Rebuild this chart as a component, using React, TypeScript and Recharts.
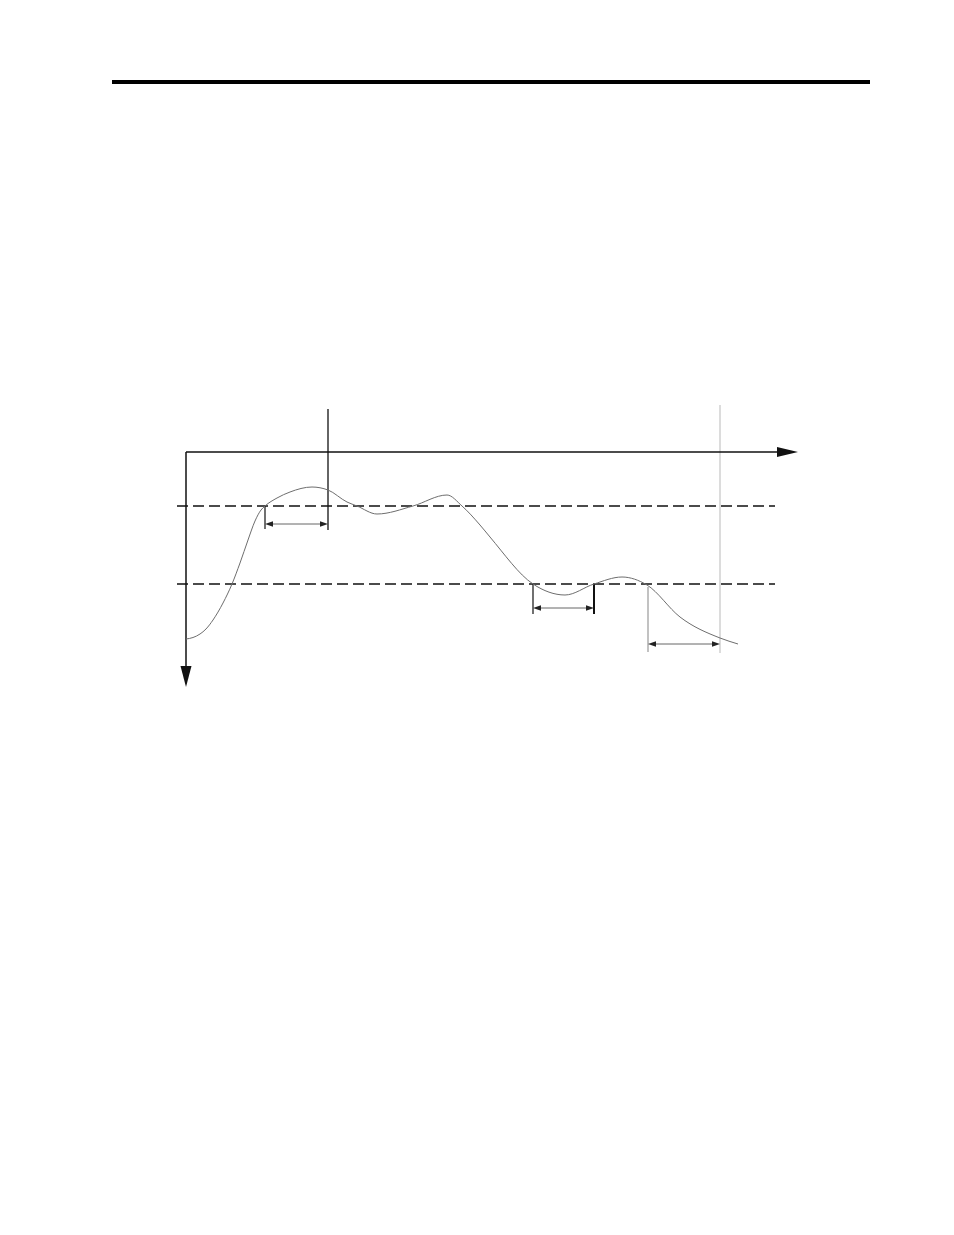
import * as React from "react";
import { LineChart, Line, XAxis, YAxis, ReferenceLine } from "recharts";

// ── Data (time units to the right, deviation units downward) ────────────

const curveT = [0, 7, 14, 20, 27, 37, 46, 54, 62, 69, 75, 79, 91, 104, 126, 142, 161, 171, 191, 227, 261, 276, 294, 304, 347, 379, 408, 436, 461, 494, 534, 552];
const curveY = [187, 185.5, 182, 177, 168, 151, 132, 111, 88, 69, 58, 54, 46, 40, 35, 38, 50, 54, 62, 54, 43, 54, 73, 85, 132, 143, 132, 125, 133, 165, 186, 192];

// dashed threshold levels
const levels = [54, 132];
const levelSpan = [-9, 589];

// axes extent (origin at 0,0)
const axisEndT = 612;
const axisEndY = 235;

// vertical markers: [t, yFrom, yTo]
const markBlack = [142, -43, 78];
const markGray = [534, -47, 201];

// dimension arrows: [tFrom, tTo, y]
const dims = [
  [79, 142, 72],
  [347, 408, 156],
  [462, 534, 192],
];
// dimension ticks: [t, yFrom, yTo]
const dimTicks = [
  [79, 54, 77],
  [347, 132, 162],
  [408, 132, 162],
  [462, 135, 200],
];

const X_DOMAIN = [-16, 624];
const Y_DOMAIN = [-52, 248];

const chartData = curveT.map((t, i) => ({ t, v: curveY[i] }));

// ── Shapes ──────────────────────────────────────────────────────────────

type Seg = { x1: number; y1: number; x2: number; y2: number };

function head(x: number, y: number, dx: number, dy: number, len: number, half: number) {
  // tip at (x, y), pointing along (dx, dy)
  const n = Math.hypot(dx, dy) || 1;
  const ux = dx / n, uy = dy / n;
  const bx = x - ux * len, by = y - uy * len;
  return `${x},${y} ${bx - uy * half},${by + ux * half} ${bx + uy * half},${by - ux * half}`;
}

function axisArrow(color: string, width: number, len: number, half: number) {
  return (p: Seg) => (
    <g>
      <line x1={p.x1} y1={p.y1} x2={p.x2 - Math.sign(p.x2 - p.x1) * len * 0.5} y2={p.y2 - Math.sign(p.y2 - p.y1) * len * 0.5} stroke={color} strokeWidth={width} />
      <polygon points={head(p.x2, p.y2, p.x2 - p.x1, p.y2 - p.y1, len, half)} fill={color} />
    </g>
  );
}

function dimArrow(color: string) {
  return (p: Seg) => (
    <g>
      <line x1={p.x1 + 4} y1={p.y1} x2={p.x2 - 4} y2={p.y2} stroke={color} strokeWidth={1} />
      <polygon points={head(p.x1, p.y1, p.x1 - p.x2, 0, 8, 2.8)} fill="#222" />
      <polygon points={head(p.x2, p.y2, p.x2 - p.x1, 0, 8, 2.8)} fill="#222" />
    </g>
  );
}

// ── App ─────────────────────────────────────────────────────────────────

export default function App() {
  return (
    <div style={{ position: "absolute", left: 0, top: 0, width: 954, height: 760, background: "#fff" }}>
      <div style={{ position: "absolute", left: 112, top: 80, width: 758, height: 4, background: "#000" }} />
      <div style={{ position: "absolute", left: 0, top: 0 }}>
        <LineChart width={954} height={760} data={chartData} margin={{ top: 400, right: 144, bottom: 60, left: 170 }}>
          <XAxis dataKey="t" type="number" domain={X_DOMAIN} allowDataOverflow hide />
          <YAxis type="number" domain={Y_DOMAIN} reversed allowDataOverflow hide />

          {levels.map((lv) => (
            <ReferenceLine key={`lv${lv}`} segment={[{ x: levelSpan[0], y: lv }, { x: levelSpan[1], y: lv }]} stroke="#111" strokeWidth={1.3} strokeDasharray="11 5" ifOverflow="visible" />
          ))}

          <ReferenceLine segment={[{ x: markGray[0], y: markGray[1] }, { x: markGray[0], y: markGray[2] }]} stroke="#dcdcdc" strokeWidth={2} ifOverflow="visible" />
          <ReferenceLine segment={[{ x: markBlack[0], y: markBlack[1] }, { x: markBlack[0], y: markBlack[2] }]} stroke="#111" strokeWidth={1.3} ifOverflow="visible" />

          {dimTicks.map(([t, a, b], i) => (
            <ReferenceLine key={`tk${i}`} segment={[{ x: t, y: a }, { x: t, y: b }]} stroke={i === 3 ? "#999" : "#111"} strokeWidth={i === 2 ? 2 : 1.2} ifOverflow="visible" />
          ))}

          {dims.map(([a, b, y], i) => (
            <ReferenceLine key={`dm${i}`} segment={[{ x: a, y }, { x: b, y }]} shape={dimArrow("#666")} ifOverflow="visible" />
          ))}

          <ReferenceLine segment={[{ x: 0, y: 0 }, { x: axisEndT, y: 0 }]} shape={axisArrow("#111", 1.5, 21, 5)} ifOverflow="visible" />
          <ReferenceLine segment={[{ x: 0, y: 0 }, { x: 0, y: axisEndY }]} shape={axisArrow("#111", 1.5, 21, 5.5)} ifOverflow="visible" />

          <Line dataKey="v" type="monotone" stroke="#6e6e6e" strokeWidth={1} dot={false} activeDot={false} isAnimationActive={false} />
        </LineChart>
      </div>
    </div>
  );
}
